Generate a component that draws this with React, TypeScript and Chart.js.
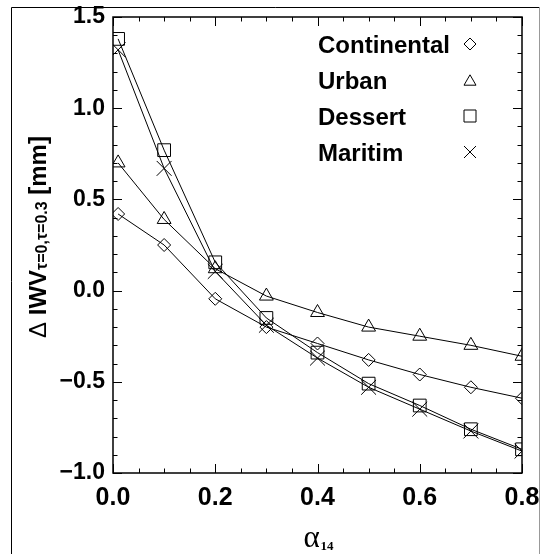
import React, { useEffect, useRef } from "react";
import { Chart, registerables } from "chart.js";

Chart.register(...registerables);

// ---- data ----
const alphaValues = [0.01, 0.1, 0.2, 0.3, 0.4, 0.5, 0.6, 0.7, 0.8];
const continental = [0.42, 0.25, -0.045, -0.2, -0.29, -0.38, -0.46, -0.53, -0.59];
const urban = [0.7, 0.39, 0.12, -0.03, -0.12, -0.2, -0.25, -0.3, -0.36];
const dessert = [1.38, 0.77, 0.155, -0.15, -0.34, -0.51, -0.63, -0.76, -0.87];
const maritim = [1.32, 0.67, 0.105, -0.19, -0.37, -0.53, -0.65, -0.77, -0.88];

const seriesNames = ["Continental", "Urban", "Dessert", "Maritim"];
const seriesStyles = ["rectRot", "triangle", "rect", "crossRot"];
const seriesValues = [continental, urban, dessert, maritim];

const xMajorTicks = [0, 0.2, 0.4, 0.6, 0.8];
const xMinorStep = 0.05;
const yMajorTicks = [-1.0, -0.5, 0.0, 0.5, 1.0, 1.5];
const yMinorStep = 0.1;

const yTitleParts = [
  { text: "\u0394", sub: false, bold: false },
  { text: " IWV", sub: false, bold: true },
  { text: "\u03c4=0,\u03c4=0.3", sub: true, bold: true },
  { text: " [mm]", sub: false, bold: true },
];
const xTitleMain = "\u03b1";
const xTitleSub = "14";

const SANS = '"Liberation Sans", Arial, Helvetica, sans-serif';
const SERIF = '"Liberation Serif", "Times New Roman", serif';

function fmt(v: number): string {
  const s = Math.abs(v).toFixed(1);
  return v < -1e-9 ? "\u2212" + s : s;
}

function drawMarker(ctx: CanvasRenderingContext2D, style: string, x: number, y: number, s: number) {
  ctx.beginPath();
  if (style === "rectRot") {
    ctx.moveTo(x, y - s);
    ctx.lineTo(x + s, y);
    ctx.lineTo(x, y + s);
    ctx.lineTo(x - s, y);
    ctx.closePath();
  } else if (style === "triangle") {
    const h = s * 1.732;
    ctx.moveTo(x, y - h / 2);
    ctx.lineTo(x + s, y + h / 2);
    ctx.lineTo(x - s, y + h / 2);
    ctx.closePath();
  } else if (style === "rect") {
    ctx.rect(x - s, y - s, 2 * s, 2 * s);
  } else {
    ctx.moveTo(x - s, y - s);
    ctx.lineTo(x + s, y + s);
    ctx.moveTo(x + s, y - s);
    ctx.lineTo(x - s, y + s);
  }
  ctx.stroke();
}

const decorPlugin = {
  id: "decor",
  afterDatasetsDraw(chart: any) {
    const ctx: CanvasRenderingContext2D = chart.ctx;
    const a = chart.chartArea;
    const xs = chart.scales.x;
    const ys = chart.scales.y;
    ctx.save();
    ctx.strokeStyle = "#000";
    ctx.fillStyle = "#000";

    // ticks on all four sides, pointing inward
    ctx.lineWidth = 1;
    ctx.beginPath();
    const x0 = xMajorTicks[0];
    const x1 = xMajorTicks[xMajorTicks.length - 1];
    for (let v = x0; v <= x1 + 1e-9; v += xMinorStep) {
      const major = xMajorTicks.some((m) => Math.abs(m - v) < 1e-6);
      const len = major ? 9 : 4.5;
      const px = Math.round(xs.getPixelForValue(v)) + 0.5;
      ctx.moveTo(px, a.bottom);
      ctx.lineTo(px, a.bottom - len);
      ctx.moveTo(px, a.top);
      ctx.lineTo(px, a.top + len);
    }
    const y0 = yMajorTicks[0];
    const y1 = yMajorTicks[yMajorTicks.length - 1];
    for (let v = y0; v <= y1 + 1e-9; v += yMinorStep) {
      const major = yMajorTicks.some((m) => Math.abs(m - v) < 1e-6);
      const len = major ? 9 : 4.5;
      const py = Math.round(ys.getPixelForValue(v)) + 0.5;
      ctx.moveTo(a.left, py);
      ctx.lineTo(a.left + len, py);
      ctx.moveTo(a.right, py);
      ctx.lineTo(a.right - len, py);
    }
    ctx.stroke();

    // plot frame
    ctx.lineWidth = 1.5;
    ctx.strokeRect(a.left, a.top, a.right - a.left, a.bottom - a.top);

    // legend (text then marker)
    ctx.lineWidth = 1;
    ctx.font = "bold 24px " + SANS;
    ctx.textAlign = "left";
    ctx.textBaseline = "alphabetic";
    const legendTextX = a.left + 205;
    const legendMarkX = a.left + 357;
    for (let i = 0; i < seriesNames.length; i++) {
      const cy = a.top + 27 + i * 36;
      ctx.fillText(seriesNames[i], legendTextX, cy + 8.6);
      drawMarker(ctx, seriesStyles[i], legendMarkX, cy, 6);
    }

    // y axis title (rotated, with subscript)
    const fontFor = (p: { sub: boolean; bold: boolean }) =>
      (p.bold ? "bold " : "") + (p.sub ? "16px " : "24px ") + SANS;
    let total = 0;
    for (const p of yTitleParts) {
      ctx.font = fontFor(p);
      total += ctx.measureText(p.text).width;
    }
    const cyTitle = (a.top + a.bottom) / 2 - 8;
    ctx.save();
    ctx.translate(46, cyTitle);
    ctx.rotate(-Math.PI / 2);
    let tx = -total / 2;
    for (const p of yTitleParts) {
      ctx.font = fontFor(p);
      ctx.fillText(p.text, tx, p.sub ? 1 : 0);
      tx += ctx.measureText(p.text).width;
    }
    ctx.restore();

    // x axis title: alpha with subscript 14
    ctx.font = "31px " + SERIF;
    const wMain = ctx.measureText(xTitleMain).width;
    ctx.font = "bold 13px " + SERIF;
    const wSub = ctx.measureText(xTitleSub).width;
    const cx = (a.left + a.right) / 2 + 1;
    const sx = cx - (wMain + wSub + 1) / 2;
    ctx.font = "31px " + SERIF;
    ctx.fillText(xTitleMain, sx, 547);
    ctx.font = "bold 13px " + SERIF;
    ctx.fillText(xTitleSub, sx + wMain + 1, 550);

    // outer frame
    ctx.lineWidth = 1;
    ctx.strokeStyle = "#000";
    ctx.beginPath();
    ctx.moveTo(11.5, 560);
    ctx.lineTo(11.5, 7.5);
    ctx.lineTo(539, 7.5);
    ctx.stroke();
    ctx.strokeStyle = "#999";
    ctx.beginPath();
    ctx.moveTo(539.5, 7);
    ctx.lineTo(539.5, 560);
    ctx.stroke();
    ctx.restore();
  },
};

export default function App() {
  const ref = useRef<HTMLCanvasElement | null>(null);

  useEffect(() => {
    if (!ref.current) return;
    const datasets = seriesNames.map((name, i) => ({
      label: name,
      data: alphaValues.map((x, j) => ({ x, y: seriesValues[i][j] })),
      borderColor: "#000",
      borderWidth: 1,
      backgroundColor: "rgba(0,0,0,0)",
      pointStyle: seriesStyles[i] as any,
      pointRadius: [6.5, 8, 9, 10.5][i],
      pointBorderWidth: 1,
      pointBorderColor: "#000",
      pointBackgroundColor: "rgba(0,0,0,0)",
      tension: 0,
      fill: false,
      clip: 0,
    }));

    const chart = new Chart(ref.current, {
      type: "line",
      data: { datasets },
      options: {
        animation: false,
        responsive: false,
        maintainAspectRatio: false,
        layout: { padding: { left: 0, top: 17, right: 19, bottom: 0 } },
        plugins: {
          legend: { display: false },
          tooltip: { enabled: false },
        },
        scales: {
          x: {
            type: "linear",
            min: 0,
            max: 0.8,
            grid: { display: false, drawTicks: false },
            border: { display: false },
            ticks: {
              stepSize: 0.2,
              autoSkip: false,
              maxRotation: 0,
              padding: 10,
              color: "#000",
              font: { family: SANS, size: 25, weight: "bold" },
              callback: (v: any) => Number(v).toFixed(1),
            },
            afterFit: (s: any) => {
              s.height = 81;
              s.paddingLeft = 0;
              s.paddingRight = 0;
            },
          },
          y: {
            type: "linear",
            min: -1,
            max: 1.5,
            grid: { display: false, drawTicks: false },
            border: { display: false },
            ticks: {
              stepSize: 0.5,
              autoSkip: false,
              padding: 8,
              color: "#000",
              font: { family: SANS, size: 23, weight: "bold" },
              callback: (v: any) => fmt(Number(v)),
            },
            afterFit: (s: any) => {
              s.width = 113;
              s.paddingTop = 0;
              s.paddingBottom = 0;
            },
          },
        },
      },
      plugins: [decorPlugin],
    });
    return () => chart.destroy();
  }, []);

  return (
    <div style={{ position: "absolute", left: 0, top: 0, width: 541, height: 554, background: "#fff" }}>
      <canvas ref={ref} width={541} height={554} style={{ display: "block" }} />
    </div>
  );
}
